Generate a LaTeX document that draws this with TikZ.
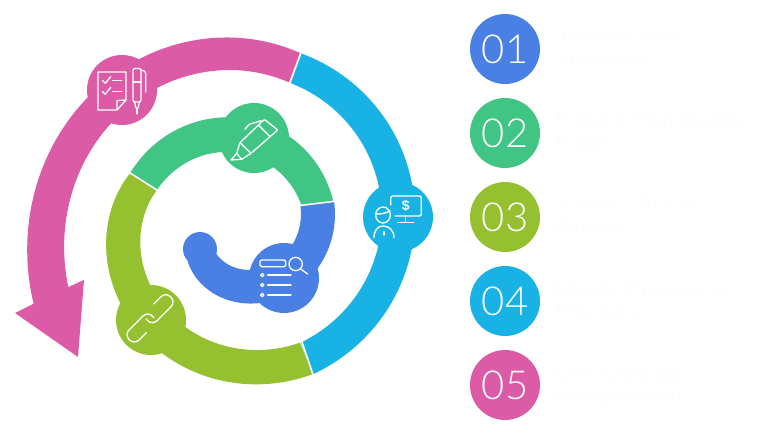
\documentclass[tikz,border=0pt]{standalone}
\usepackage{fontspec}
\setmainfont{Liberation Sans}
\newfontfamily\numfont[UprightFont=* Light]{Lato}
\definecolor{cpink}{HTML}{DB5BA6}
\definecolor{ccyan}{HTML}{18B2E5}
\definecolor{cblue}{HTML}{4A80E4}
\definecolor{cgreen}{HTML}{40C585}
\definecolor{clime}{HTML}{95C130}
\definecolor{faint}{HTML}{FCFDFE}
\tikzset{
  hub/.style={circle,minimum size=70pt,inner sep=0pt,draw=none},
  badge/.style={circle,minimum size=70pt,inner sep=0pt,text=white,font=\numfont\fontsize{40}{40}\selectfont},
  caption/.style={anchor=west,inner sep=0pt,align=left,text=faint,font=\fontsize{20}{23.5}\selectfont},
  icon/.style={draw=white,line width=1.3pt,line cap=round,line join=round},
  sep/.style={draw=white,line width=1.6pt}
}
% spiral edge: angle = #1 + #2*100*u, u from #3 to #4, r = #5 + #6 u + #7 u^2 + #8 u^3
\newcommand{\spiraledge}[8]{plot[domain=#3:#4,samples=70,variable=\uu] ({\ctrx+(#5+(#6)*\uu+(#7)*\uu*\uu+(#8)*\uu*\uu*\uu)*cos(#1+#2*100*\uu)},{\ctry+(#5+(#6)*\uu+(#7)*\uu*\uu+(#8)*\uu*\uu*\uu)*sin(#1+#2*100*\uu)})}
\newcommand{\joinedge}[8]{-- plot[domain=#3:#4,samples=70,variable=\uu] ({\ctrx+(#5+(#6)*\uu+(#7)*\uu*\uu+(#8)*\uu*\uu*\uu)*cos(#1+#2*100*\uu)},{\ctry+(#5+(#6)*\uu+(#7)*\uu*\uu+(#8)*\uu*\uu*\uu)*sin(#1+#2*100*\uu)})}
\begin{document}
\begin{tikzpicture}[x=1pt,y=-1pt]
\useasboundingbox (0,0) rectangle (758,434);
\def\ctrx{250}\def\ctry{214}
% cyan band
\fill[ccyan] \spiraledge{-72.6}{1}{0}{1.41}{168.6}{-13}{11}{0} \joinedge{-72.6}{1}{1.41}{0}{137}{-16}{12}{0} -- cycle;
% pink band with arrow head
\fill[cpink] \spiraledge{-72.6}{-1}{0}{1.30}{168.6}{35}{12}{0}
  -- (15,313) -- (78,357) -- (84,280)
  \joinedge{-72.6}{-1}{1.293}{0}{137}{30}{12}{0} -- cycle;
% lime band
\fill[clime] \spiraledge{68.4}{1}{0}{1.305}{172}{-5.4}{-10.4}{-9.3} \joinedge{68.7}{1}{1.257}{0}{138}{-7.1}{-12.57}{-6.6} -- cycle;
\def\ctrx{235}\def\ctry{215}
% green band
\fill[cgreen] \spiraledge{201.8}{1}{0}{1.507}{113}{-34}{16.5}{0} \joinedge{197.8}{1}{1.532}{0}{82}{-42}{21}{0} -- cycle;
% blue band with round tail
\fill[cblue] (200,249) circle[radius=17];
\fill[cblue] \spiraledge{-7.5}{1}{0}{1.435}{100}{0}{-7.98}{-5.95} \joinedge{-8.9}{1}{1.45}{0}{66}{0}{-9.5}{-4.27} -- cycle;
% hubs
\node[hub,fill=cpink] (hubpink) at (122,90) {};
\node[hub,fill=cgreen] (hubgreen) at (254,138) {};
\node[hub,fill=ccyan] (hubcyan) at (398,217) {};
\node[hub,fill=cblue] (hubblue) at (284,278) {};
\node[hub,fill=clime] (hublime) at (151,320) {};
% separators
\draw[sep] (302,50) -- (289,85);
\draw[sep] (313.5,376) -- (301,339);
\draw[sep] (127,171) -- (160,192);
\draw[sep] (337,201) -- (296,206);
% checklist icon
\begin{scope}[icon]
\draw (117,110) -- (98,110) -- (98,72) -- (126,72) -- (126,100) -- (117,110) -- (117,100.5) -- (126,100);
\draw (102.7,80.7) -- (105.3,83.3) -- (110.7,76.7);
\draw (112.7,80.7) -- (121.7,80.7);
\draw (102.7,91.7) -- (105.3,94.3) -- (110.7,87.3);
\draw (112.7,91.7) -- (121.7,91.7);
\draw[rounded corners=2pt] (133,102) -- (133,68.5) -- (141,68.5) -- (141,102) -- cycle;
\draw (133,82) -- (141,82);
\draw (134.5,102) -- (136,108) -- (138,108) -- (139.5,102);
\draw (137,108) -- (137,114);
\draw[rounded corners=1.5pt] (141,70) -- (145.7,71.5) -- (145.7,92);
\end{scope}
% marker icon
\begin{scope}[shift={(225,110)},scale=1/3,icon]
\draw[rounded corners=1pt] (45,98) -- (118,28) -- (158,60) -- (78,130) -- cycle;
\draw (100,45) -- (135,80);
\draw (45,98) -- (35,130) -- (18,150) -- (50,148) -- (78,130);
\draw (35,130) -- (50,148);
\draw[rounded corners=1pt] (60,58) -- (72,43) -- (100,35) -- (108,32);
\end{scope}
% presenter icon
\begin{scope}[shift={(368,190)},scale=1/3,icon]
\draw[rounded corners=1.5pt] (68,45) -- (68,18) -- (160,18) -- (160,78) -- (82,78);
\draw (113,78) -- (113,97);
\draw (90,97) -- (137,97);
\draw (45,75) circle[x radius=22,y radius=24];
\draw (24,72) .. controls (40,72) and (55,70) .. (66,62);
\draw (18,143) .. controls (18,120) and (30,108) .. (45,108) .. controls (62,108) and (78,120) .. (78,143);
\draw (48,125) -- (48,135);
\node[inner sep=0pt,text=white,font=\bfseries\fontsize{14}{14}\selectfont] (dollar) at (113,48) {\$};
\end{scope}
% search list icon
\begin{scope}[shift={(255,250)},scale=1/3,icon]
\draw[rounded corners=1.5pt] (15,30) rectangle (92,50);
\draw (122,42) circle[radius=20];
\draw (137,57) -- (158,72);
\foreach \yy in {75,105,135} {
  \draw (22,\yy) circle[radius=5];
  \draw (38,\yy) -- (108,\yy);
}
\end{scope}
% link icon
\begin{scope}[shift={(122,292)},scale=1/3,icon]
\draw[rounded corners=6.5pt] (73,122) -- (37,158) -- (7,128) -- (77,58) -- (96,77);
\draw[rounded corners=6.5pt] (95,36) -- (131,0) -- (161,30) -- (91,100) -- (72,81);
\end{scope}
% list
\node[badge,fill=cblue] (b1) at (505,49) {01};
\node[badge,fill=cgreen] (b2) at (505,133) {02};
\node[badge,fill=clime] (b3) at (505,217) {03};
\node[badge,fill=ccyan] (b4) at (505,301) {04};
\node[badge,fill=cpink] (b5) at (505,385) {05};
\node[caption] (t1) at (556,49) {Identify Power\\Strategies};
\node[caption] (t2) at (556,133) {Prepare High-Quality\\Pages};
\node[caption] (t3) at (556,216) {Submit URLs in\\Batches};
\node[caption] (t4) at (556,302) {Monitor Processing\\Efficiency};
\node[caption] (t5) at (556,385) {Use Automatic\\Resubmission};
\end{tikzpicture}
\end{document}
